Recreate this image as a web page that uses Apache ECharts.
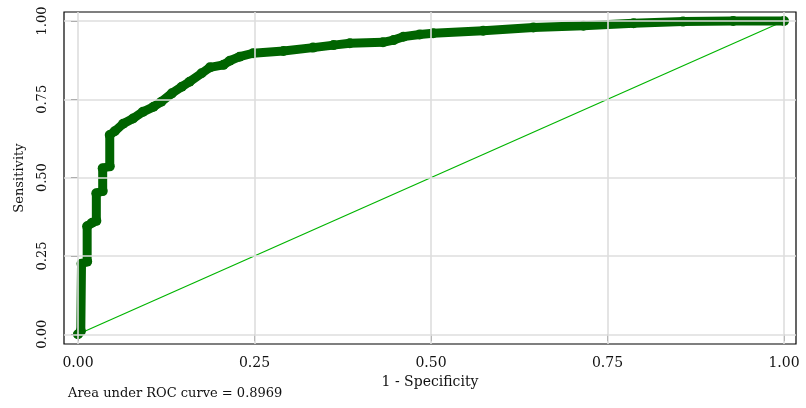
<!DOCTYPE html>
<html>
<head>
<meta charset="utf-8">
<script src="https://cdn.jsdelivr.net/npm/echarts@6/dist/echarts.min.js"></script>
<style>
  html, body { margin: 0; padding: 0; background: #fff; }
  #chart { width: 806px; height: 408px; }
</style>
</head>
<body>
<div id="chart"></div>
<script>
// ROC 曲线数据
const fpr = [0, 0.004, 0.005, 0.013, 0.013, 0.02, 0.026, 0.026, 0.035, 0.035, 0.045, 0.045,
    0.052, 0.064, 0.078, 0.092, 0.107, 0.118, 0.133, 0.147, 0.158, 0.175, 0.187, 0.206,
    0.215, 0.229, 0.248, 0.291, 0.333, 0.362, 0.385, 0.432, 0.447, 0.461, 0.484, 0.503,
    0.574, 0.645, 0.716, 0.787, 0.857, 0.928, 1];
const tpr = [0, 0.01, 0.225, 0.232, 0.345, 0.356, 0.362, 0.45, 0.457, 0.53, 0.536, 0.636,
    0.648, 0.672, 0.689, 0.71, 0.726, 0.742, 0.769, 0.79, 0.806, 0.833, 0.852, 0.86,
    0.873, 0.886, 0.897, 0.904, 0.915, 0.923, 0.929, 0.932, 0.939, 0.95, 0.957, 0.961,
    0.969, 0.979, 0.985, 0.993, 0.998, 1.0, 1];
const refLine = [[0, 0], [1, 1]];
const tickValues = [0, 0.25, 0.5, 0.75, 1];
const aucText = 'Area under ROC curve = 0.8969';

const FONT = 'DejaVu Serif';
const chart = echarts.init(document.getElementById('chart'));

const rocData = fpr.map((x, i) => [x, tpr[i]]);

const option = {
    animation: false,
    backgroundColor: '#fff',
    grid: {
        left: 64, top: 12, width: 732, height: 332,
        show: true, borderColor: '#000', borderWidth: 1.2, backgroundColor: '#fff'
    },
    xAxis: {
        type: 'value',
        min: -0.0198, max: 1.017,
        name: '1 - Specificity',
        nameLocation: 'middle',
        nameGap: 21,
        nameTextStyle: { fontFamily: FONT, fontSize: 14, color: '#111' },
        axisLine: { show: false },
        axisTick: { show: true, customValues: tickValues, length: 7, lineStyle: { color: '#222' } },
        axisLabel: {
            customValues: tickValues, margin: 12,
            fontFamily: FONT, fontSize: 14, color: '#111',
            formatter: v => v.toFixed(2)
        },
        splitLine: { show: false }
    },
    yAxis: {
        type: 'value',
        min: -0.031, max: 1.0287,
        name: 'Sensitivity',
        nameLocation: 'middle',
        nameGap: 38,
        nameTextStyle: { fontFamily: FONT, fontSize: 13, color: '#111' },
        axisLine: { show: false },
        axisTick: { show: true, customValues: tickValues, length: 7, lineStyle: { color: '#222' } },
        axisLabel: {
            customValues: tickValues, margin: 15, rotate: 90,
            fontFamily: FONT, fontSize: 13, color: '#111',
            formatter: v => v.toFixed(2)
        },
        splitLine: { show: false }
    },
    graphic: [{
        type: 'text', left: 68, top: 387,
        style: { text: aucText, font: '13px "DejaVu Serif"', fill: '#111' }
    }],
    series: [
        {
            // 网格线
            type: 'line', data: [], z: 1, silent: true,
            markLine: {
                silent: true, symbol: 'none', label: { show: false },
                lineStyle: { color: '#dedede', width: 1.6, type: 'solid' },
                data: tickValues.map(v => ({ xAxis: v })).concat(tickValues.map(v => ({ yAxis: v })))
            }
        },
        {
            name: 'Reference',
            type: 'line', data: refLine, z: 2, symbol: 'none',
            lineStyle: { color: '#00b400', width: 1.2 }
        },
        {
            name: 'ROC',
            type: 'line', data: rocData, z: 3,
            symbol: 'circle', symbolSize: 10,
            itemStyle: { color: '#006400', borderWidth: 0 },
            lineStyle: { color: '#006400', width: 9, cap: 'round', join: 'round' }
        }
    ]
};

chart.setOption(option);
</script>
</body>
</html>
